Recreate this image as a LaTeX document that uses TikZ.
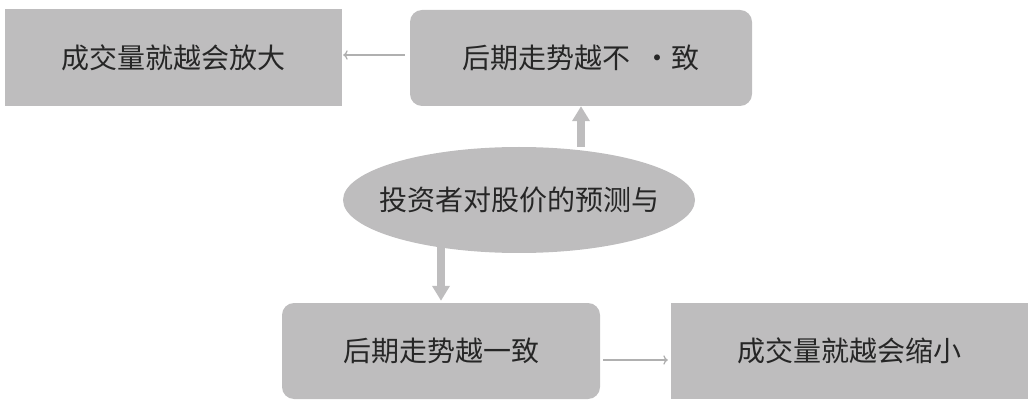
\documentclass[tikz,border=0pt]{standalone}
\usepackage{fontspec}
\setmainfont{Noto Sans CJK SC}
\usetikzlibrary{shapes.geometric,arrows.meta}
\definecolor{boxgray}{RGB}{190,189,190}
\definecolor{linegray}{RGB}{176,176,176}
\begin{document}
\begin{tikzpicture}[x=1pt,y=-1pt,
    volume/.style ={rectangle, fill=boxgray, inner sep=0pt, minimum height=97pt, text=black!85, font=\fontsize{28}{30}\selectfont},
    trend/.style ={volume, rounded corners=12pt},
    forecast/.style ={ellipse, fill=boxgray, inner xsep=-16pt, inner ysep=0pt, minimum width=352pt, minimum height=106pt, text=black!85, font=\fontsize{28}{30}\selectfont},
    bigarrow/.style ={boxgray, line width=7.5pt, -{Triangle[length=15pt,width=17pt]}},
    smallarrow/.style ={linegray, line width=1.3pt, ->}]
   \useasboundingbox (0,0) rectangle (1030,403);
   \node[volume, minimum width=337pt] (A) at (173.5,57.5) {成交量就越会放大};
   \node[trend, minimum width=342pt, minimum height=96pt] (B) at (581,58) {后期走势越不\hspace{0.45em}·致};
   \node[forecast] (C) at (519,200) {投资者对股价的预测与};
   \node[trend, minimum width=318pt, minimum height=96pt] (D) at (441,351) {后期走势越一致};
   \node[volume, minimum width=357pt, minimum height=96pt] (E) at (849.5,351) {成交量就越会缩小};
   \draw[bigarrow] (C.north -| B.south) to (B.south);
   \draw[bigarrow, shorten <=-6pt, shorten >=2pt] (C.south -| D.north) to (D.north);
   \draw[smallarrow, shorten <=5pt, shorten >=1pt] ([yshift=3pt]B.west) to ([yshift=3pt]B.west -| A.east);
   \draw[smallarrow, shorten <=3pt, shorten >=3pt] ([yshift=-9pt]D.east) to ([yshift=-9pt]D.east -| E.west);
 \end{tikzpicture}
\end{document}
